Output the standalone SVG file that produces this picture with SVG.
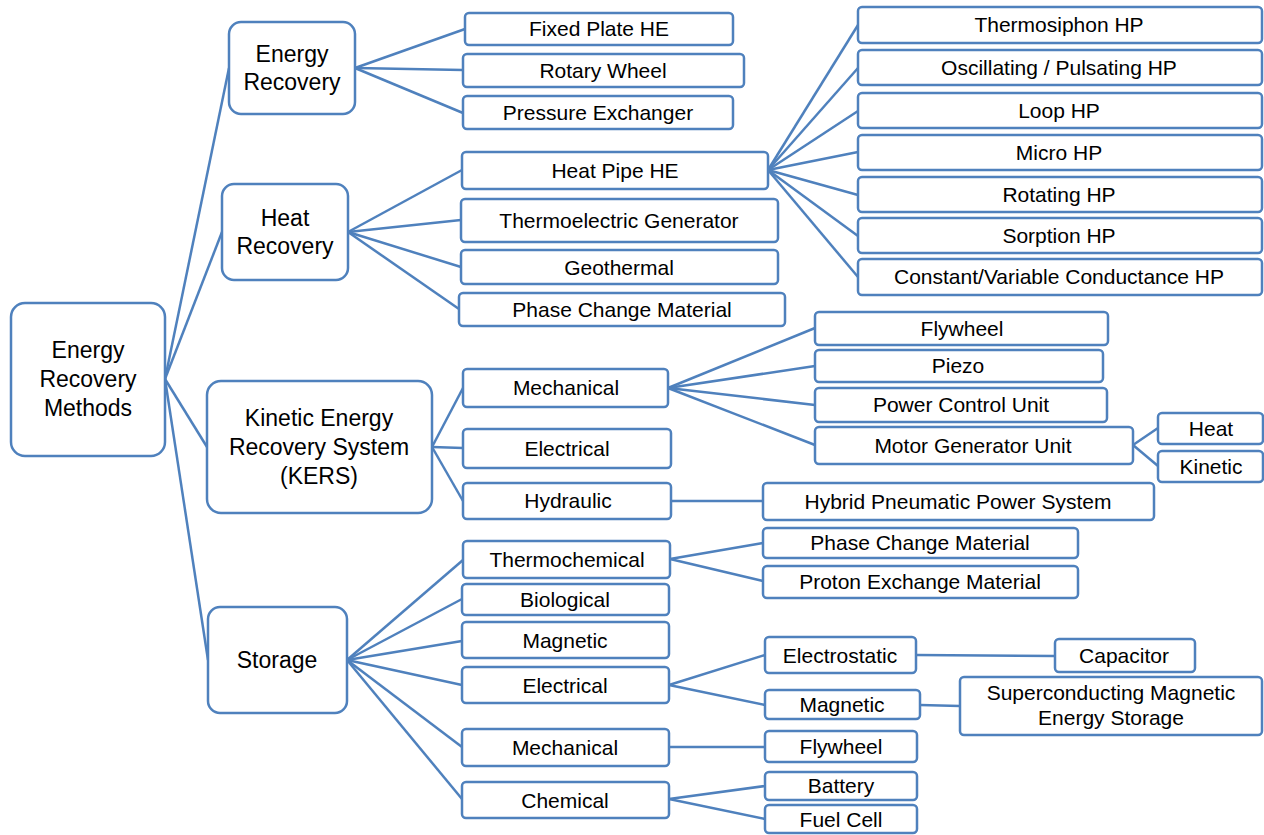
<svg xmlns="http://www.w3.org/2000/svg" width="1264" height="835" viewBox="0 0 1264 835">
<style>
.c line{stroke:#4F81BD;stroke-width:2.5;fill:none}
.n rect{fill:#fff;stroke:#4F81BD;stroke-width:2.5}
.n text{font-family:"Liberation Sans",Arial,sans-serif;font-size:21px;text-anchor:middle;fill:#000}
.b text{font-size:23px}
</style>
<rect width="1264" height="835" fill="#fff"/>
<g id="connectors" class="c">
<line x1="165" y1="379" x2="229" y2="68"/>
<line x1="165" y1="379" x2="222" y2="232"/>
<line x1="165" y1="379" x2="207" y2="447"/>
<line x1="165" y1="379" x2="208" y2="660"/>
<line x1="355" y1="68" x2="465" y2="29"/>
<line x1="355" y1="68" x2="463" y2="70"/>
<line x1="355" y1="68" x2="463" y2="113"/>
<line x1="348" y1="232" x2="462" y2="170"/>
<line x1="348" y1="232" x2="461" y2="220"/>
<line x1="348" y1="232" x2="461" y2="267"/>
<line x1="348" y1="232" x2="459" y2="309"/>
<line x1="768" y1="170" x2="858" y2="25"/>
<line x1="768" y1="170" x2="858" y2="68"/>
<line x1="768" y1="170" x2="858" y2="111"/>
<line x1="768" y1="170" x2="858" y2="152"/>
<line x1="768" y1="170" x2="858" y2="195"/>
<line x1="768" y1="170" x2="858" y2="236"/>
<line x1="768" y1="170" x2="858" y2="277"/>
<line x1="432" y1="447" x2="463" y2="388"/>
<line x1="432" y1="447" x2="463" y2="448"/>
<line x1="432" y1="447" x2="463" y2="501"/>
<line x1="668" y1="388" x2="815" y2="328"/>
<line x1="668" y1="388" x2="815" y2="366"/>
<line x1="668" y1="388" x2="815" y2="405"/>
<line x1="668" y1="388" x2="815" y2="445"/>
<line x1="1133" y1="445" x2="1158" y2="428"/>
<line x1="1133" y1="445" x2="1158" y2="466"/>
<line x1="671" y1="501" x2="763" y2="501"/>
<line x1="347" y1="660" x2="463" y2="560"/>
<line x1="347" y1="660" x2="462" y2="599"/>
<line x1="347" y1="660" x2="462" y2="641"/>
<line x1="347" y1="660" x2="462" y2="685"/>
<line x1="347" y1="660" x2="462" y2="747"/>
<line x1="347" y1="660" x2="462" y2="799"/>
<line x1="670" y1="559" x2="763" y2="543"/>
<line x1="670" y1="559" x2="763" y2="581"/>
<line x1="669" y1="685" x2="765" y2="655"/>
<line x1="669" y1="685" x2="765" y2="705"/>
<line x1="916" y1="655" x2="1055" y2="656"/>
<line x1="920" y1="705" x2="960" y2="706"/>
<line x1="669" y1="747" x2="765" y2="747"/>
<line x1="669" y1="799" x2="765" y2="786"/>
<line x1="669" y1="799" x2="765" y2="819"/>
</g>
<g id="root" class="n b"><rect x="11" y="303" width="154" height="153" rx="14"/><text x="88" y="358">Energy</text><text x="88" y="387">Recovery</text><text x="88" y="416">Methods</text></g>
<g id="energy-recovery" class="n b"><rect x="229" y="22" width="126" height="92" rx="12"/><text x="292" y="62">Energy</text><text x="292" y="90">Recovery</text></g>
<g id="heat-recovery" class="n b"><rect x="222" y="184" width="126" height="96" rx="12"/><text x="285" y="226">Heat</text><text x="285" y="254">Recovery</text></g>
<g id="kers" class="n b"><rect x="207" y="381" width="225" height="132" rx="14"/><text x="319" y="426">Kinetic Energy</text><text x="319" y="455">Recovery System</text><text x="319" y="484">(KERS)</text></g>
<g id="storage" class="n b"><rect x="208" y="607" width="139" height="106" rx="12"/><text x="277" y="668">Storage</text></g>

<g id="fixed-plate" class="n"><rect x="465" y="13" width="268" height="32" rx="4"/><text x="599" y="36">Fixed Plate HE</text></g>
<g id="rotary-wheel" class="n"><rect x="463" y="54" width="281" height="33" rx="4"/><text x="603" y="78">Rotary Wheel</text></g>
<g id="pressure-exchanger" class="n"><rect x="463" y="96" width="270" height="33" rx="4"/><text x="598" y="120">Pressure Exchanger</text></g>

<g id="heat-pipe" class="n"><rect x="462" y="152" width="306" height="37" rx="4"/><text x="615" y="178">Heat Pipe HE</text></g>
<g id="teg" class="n"><rect x="461" y="199" width="317" height="43" rx="4"/><text x="619" y="228">Thermoelectric Generator</text></g>
<g id="geothermal" class="n"><rect x="461" y="250" width="317" height="34" rx="4"/><text x="619" y="275">Geothermal</text></g>
<g id="pcm" class="n"><rect x="459" y="293" width="326" height="33" rx="4"/><text x="622" y="317">Phase Change Material</text></g>

<g id="thermosiphon" class="n"><rect x="858" y="7" width="404" height="36" rx="4"/><text x="1059" y="32">Thermosiphon HP</text></g>
<g id="oscillating" class="n"><rect x="858" y="50" width="404" height="35" rx="4"/><text x="1059" y="75">Oscillating / Pulsating HP</text></g>
<g id="loop" class="n"><rect x="858" y="93" width="404" height="35" rx="4"/><text x="1059" y="118">Loop HP</text></g>
<g id="micro" class="n"><rect x="858" y="135" width="404" height="35" rx="4"/><text x="1059" y="160">Micro HP</text></g>
<g id="rotating" class="n"><rect x="858" y="177" width="404" height="35" rx="4"/><text x="1059" y="202">Rotating HP</text></g>
<g id="sorption" class="n"><rect x="858" y="218" width="404" height="35" rx="4"/><text x="1059" y="243">Sorption HP</text></g>
<g id="cvc" class="n"><rect x="858" y="259" width="404" height="36" rx="4"/><text x="1059" y="284">Constant/Variable Conductance HP</text></g>

<g id="kers-mechanical" class="n"><rect x="463" y="369" width="205" height="38" rx="4"/><text x="566" y="395">Mechanical</text></g>
<g id="kers-electrical" class="n"><rect x="463" y="429" width="208" height="39" rx="4"/><text x="567" y="456">Electrical</text></g>
<g id="hydraulic" class="n"><rect x="463" y="483" width="208" height="36" rx="4"/><text x="568" y="508">Hydraulic</text></g>
<g id="flywheel" class="n"><rect x="815" y="312" width="293" height="33" rx="4"/><text x="962" y="336">Flywheel</text></g>
<g id="piezo" class="n"><rect x="815" y="350" width="288" height="32" rx="4"/><text x="958" y="373">Piezo</text></g>
<g id="pcu" class="n"><rect x="815" y="388" width="292" height="34" rx="4"/><text x="961" y="412">Power Control Unit</text></g>
<g id="mgu" class="n"><rect x="815" y="427" width="318" height="37" rx="4"/><text x="973" y="453">Motor Generator Unit</text></g>
<g id="heat" class="n"><rect x="1158" y="413" width="105" height="31" rx="4"/><text x="1211" y="436">Heat</text></g>
<g id="kinetic" class="n"><rect x="1158" y="451" width="105" height="31" rx="4"/><text x="1211" y="474">Kinetic</text></g>
<g id="hpps" class="n"><rect x="763" y="483" width="391" height="37" rx="4"/><text x="958" y="509">Hybrid Pneumatic Power System</text></g>

<g id="thermochemical" class="n"><rect x="463" y="541" width="207" height="37" rx="4"/><text x="567" y="567">Thermochemical</text></g>
<g id="biological" class="n"><rect x="462" y="584" width="207" height="31" rx="4"/><text x="565" y="607">Biological</text></g>
<g id="magnetic" class="n"><rect x="462" y="622" width="207" height="36" rx="4"/><text x="565" y="648">Magnetic</text></g>
<g id="storage-electrical" class="n"><rect x="462" y="667" width="207" height="36" rx="4"/><text x="565" y="693">Electrical</text></g>
<g id="storage-mechanical" class="n"><rect x="462" y="729" width="207" height="37" rx="4"/><text x="565" y="755">Mechanical</text></g>
<g id="chemical" class="n"><rect x="462" y="782" width="207" height="36" rx="4"/><text x="565" y="808">Chemical</text></g>
<g id="pcm2" class="n"><rect x="763" y="528" width="315" height="30" rx="4"/><text x="920" y="550">Phase Change Material</text></g>
<g id="pem" class="n"><rect x="763" y="566" width="315" height="32" rx="4"/><text x="920" y="589">Proton Exchange Material</text></g>
<g id="electrostatic" class="n"><rect x="765" y="637" width="151" height="36" rx="4"/><text x="840" y="663">Electrostatic</text></g>
<g id="capacitor" class="n"><rect x="1055" y="639" width="140" height="33" rx="4"/><text x="1124" y="663">Capacitor</text></g>
<g id="magnetic2" class="n"><rect x="765" y="690" width="155" height="29" rx="4"/><text x="842" y="712">Magnetic</text></g>
<g id="smes" class="n"><rect x="960" y="677" width="302" height="58" rx="4"/><text x="1111" y="700">Superconducting Magnetic</text><text x="1111" y="725">Energy Storage</text></g>
<g id="flywheel2" class="n"><rect x="765" y="731" width="152" height="31" rx="4"/><text x="841" y="754">Flywheel</text></g>
<g id="battery" class="n"><rect x="765" y="772" width="152" height="28" rx="4"/><text x="841" y="793">Battery</text></g>
<g id="fuel-cell" class="n"><rect x="765" y="805" width="152" height="28" rx="4"/><text x="841" y="827">Fuel Cell</text></g>
</svg>
